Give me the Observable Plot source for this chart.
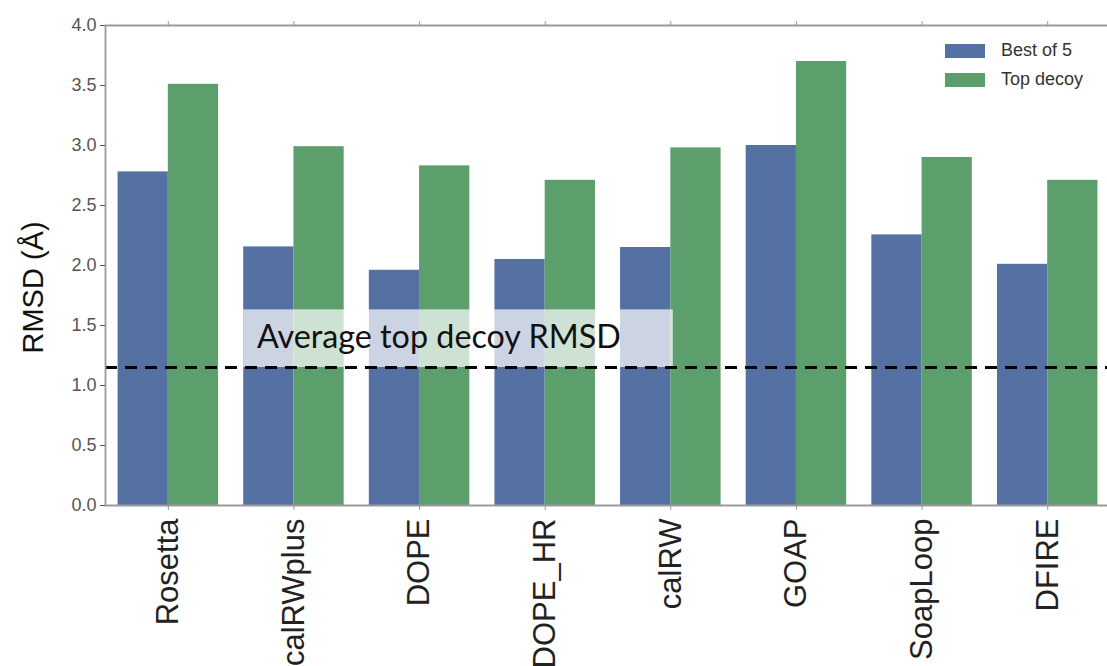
<!DOCTYPE html>
<html>
<head>
<meta charset="utf-8">
<script src="https://cdn.jsdelivr.net/npm/d3@7"></script>
<script src="https://cdn.jsdelivr.net/npm/@observablehq/plot@0.6"></script>
<style>
  html, body { margin: 0; padding: 0; background: #fff; }
  #wrap { position: relative; width: 1107px; height: 666px; overflow: hidden; }
  .legend { position: absolute; left: 945px; top: 36px; font-family: "Liberation Sans", Arial, sans-serif; font-size: 18px; color: #333; }
  .legend .row { display: flex; align-items: center; height: 29px; }
  .legend .sw { width: 40px; height: 14px; margin-right: 16px; }
</style>
</head>
<body>
<div id="wrap"></div>
<script>
// ---- data ----
const methods = ["Rosetta", "calRWplus", "DOPE", "DOPE_HR", "calRW", "GOAP", "SoapLoop", "DFIRE"];
const bestOf5 = [2.78, 2.155, 1.96, 2.05, 2.15, 3.0, 2.255, 2.01];
const topDecoy = [3.51, 2.99, 2.83, 2.71, 2.98, 3.70, 2.90, 2.71];
const seriesNames = ["Best of 5", "Top decoy"];
const seriesColors = ["#5571a3", "#5c9e6c"];
const yTicks = [0, 0.5, 1.0, 1.5, 2.0, 2.5, 3.0, 3.5, 4.0];
const avgTopDecoyRMSD = 1.15;
const annotationText = "Average top decoy RMSD";
const yLabel = "RMSD (Å)";

// table built from arrays
const rows = [];
methods.forEach((m, i) => {
  rows.push({method: m, i, series: seriesNames[0], value: bestOf5[i], x1: i - 0.4, x2: i});
  rows.push({method: m, i, series: seriesNames[1], value: topDecoy[i], x1: i, x2: i + 0.4});
});
const idx = methods.map((m, i) => i);

const font = "Liberation Sans, Arial, sans-serif";
const axisGray = "#9a9a9a";

const chart = Plot.plot({
  width: 1107,
  height: 666,
  marginLeft: 105,
  marginRight: 0,
  marginTop: 25,
  marginBottom: 161,
  style: {fontFamily: font, background: "#fff", overflow: "visible"},
  x: {type: "linear", domain: [-0.5, 7.476], axis: null},
  y: {domain: [0, 4], axis: null},
  color: {domain: seriesNames, range: seriesColors},
  marks: [
    Plot.rectY(rows, {x1: "x1", x2: "x2", y1: 0, y2: "value", fill: "series"}),
    // annotation box
    Plot.rect([{x1: 0.6, x2: 4.02, y1: avgTopDecoyRMSD, y2: 1.63}], {x1: "x1", x2: "x2", y1: "y1", y2: "y2", fill: "white", fillOpacity: 0.7}),
    Plot.text([annotationText], {x: 0.705, y: 1.40, text: d => d, textAnchor: "start", lineAnchor: "middle", fontSize: 32.3, fontFamily: "Lato, 'Open Sans', sans-serif", fill: "#111"}),
    Plot.ruleY([avgTopDecoyRMSD], {stroke: "black", strokeWidth: 3, strokeDasharray: "12,8"}),
    // frame lines
    Plot.ruleX([-0.5], {stroke: axisGray, strokeWidth: 1.8}),
    Plot.ruleY([0, 4], {stroke: axisGray, strokeWidth: 1.8}),
    // y axis
    Plot.axisY({ticks: yTicks, tickFormat: d3.format(".1f"), tickSize: 5, tickPadding: 4, fontSize: 18, color: "#555", label: null}),
    // x ticks bottom & top
    Plot.axisX({anchor: "bottom", ticks: idx, tickFormat: () => "", tickSize: 5, color: axisGray, label: null}),
    Plot.axisX({anchor: "top", ticks: idx, tickFormat: () => "", tickSize: 5, color: axisGray, label: null}),
    // x labels
    Plot.text(idx, {x: d => d, text: d => methods[d], frameAnchor: "bottom", dy: 13, rotate: -90, textAnchor: "end", lineAnchor: "middle", fontSize: 31, fill: "#222"}),
    // y label
    Plot.text([yLabel], {text: d => d, frameAnchor: "left", dx: -72, dy: 22, rotate: -90, textAnchor: "middle", lineAnchor: "middle", fontSize: 29, fill: "#111"})
  ]
});

const wrap = document.getElementById("wrap");
wrap.appendChild(chart);

// legend (inside plot area, top-right)
const legend = document.createElement("div");
legend.className = "legend";
seriesNames.forEach((name, k) => {
  const row = document.createElement("div");
  row.className = "row";
  const sw = document.createElement("div");
  sw.className = "sw";
  sw.style.background = seriesColors[k];
  const t = document.createElement("span");
  t.textContent = name;
  row.appendChild(sw);
  row.appendChild(t);
  legend.appendChild(row);
});
wrap.appendChild(legend);
</script>
</body>
</html>
